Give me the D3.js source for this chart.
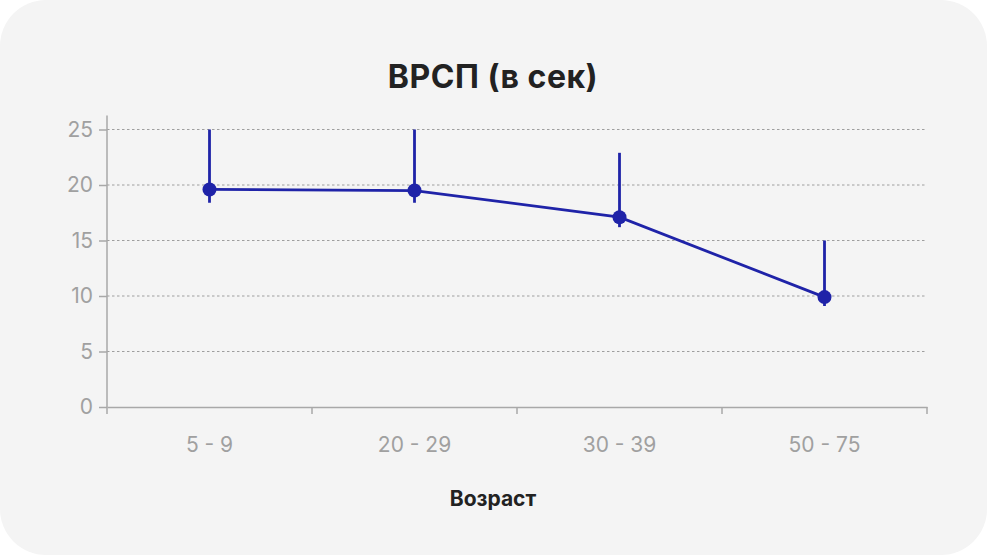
<!DOCTYPE html>
<html>
<head>
<meta charset="utf-8">
<script src="https://cdn.jsdelivr.net/npm/d3@7"></script>
<style>
  body { margin: 0; background: #ffffff; }
  text { font-family: "Inter", "Noto Sans", sans-serif; }
</style>
</head>
<body>
<div id="chart"></div>
<script>
// data
const ageGroups = ["5 - 9", "20 - 29", "30 - 39", "50 - 75"];
const meanValues = [19.6, 19.5, 17.1, 9.9];
const upperValues = [25, 25, 22.9, 15];
const lowerValues = [18.4, 18.4, 16.2, 9.1];
const yTicks = [0, 5, 10, 15, 20, 25];

const W = 987, H = 555;
const margin = {top: 129.5, right: 60, bottom: 148, left: 107};

const svg = d3.select("#chart")
  .append("svg")
    .attr("width", W)
    .attr("height", H);

// card background
svg.append("rect")
  .attr("width", W).attr("height", H)
  .attr("rx", 46).attr("ry", 46)
  .attr("fill", "#f4f4f4");

const x = d3.scaleBand()
  .domain(ageGroups)
  .range([margin.left, W - margin.right]);

const y = d3.scaleLinear()
  .domain([0, 25])
  .range([H - margin.bottom, margin.top]);

// title
svg.append("text")
  .attr("x", 493).attr("y", 88)
  .attr("text-anchor", "middle")
  .style("font-size", "32px")
  .style("font-weight", "700")
  .style("letter-spacing", "0.5px")
  .attr("fill", "#222")
  .text("ВРСП (в сек)");

// grid lines
svg.append("g")
  .selectAll("line")
  .data(yTicks.filter(d => d > 0))
  .join("line")
    .attr("x1", margin.left).attr("x2", W - margin.right)
    .attr("y1", d => y(d)).attr("y2", d => y(d))
    .attr("stroke", "#9e9e9e")
    .attr("stroke-width", 1.2)
    .attr("stroke-dasharray", "2.5,2.5");

// y axis
const yAxis = svg.append("g")
  .attr("transform", `translate(${margin.left},0)`)
  .call(d3.axisLeft(y).tickValues(yTicks).tickSize(8).tickPadding(6));
yAxis.select(".domain").attr("d", `M0,${y(0)}V${margin.top - 14}`);

// x axis, ticks on band edges
const xAxis = svg.append("g")
  .attr("transform", `translate(0,${y(0)})`)
  .call(d3.axisBottom(x).tickSize(0).tickPadding(30));
xAxis.selectAll(".edge")
  .data(ageGroups.concat(["end"]))
  .join("line")
    .attr("class", "edge")
    .attr("x1", (d, i) => i < ageGroups.length ? x(d) : x.range()[1])
    .attr("x2", (d, i) => i < ageGroups.length ? x(d) : x.range()[1])
    .attr("y1", 0).attr("y2", 7);

[yAxis, xAxis].forEach(a => {
  a.selectAll(".domain, line").attr("stroke", "#a8a8a8").attr("stroke-width", 1.5);
  a.selectAll("text")
    .attr("fill", "#a0a0a0")
    .style("font-size", "21px");
});

// x axis label
svg.append("text")
  .attr("x", 493).attr("y", 506)
  .attr("text-anchor", "middle")
  .style("font-size", "21px")
  .style("font-weight", "700")
  .attr("fill", "#222")
  .text("Возраст");

const rows = ageGroups.map((g, i) => ({
  g: g, mean: meanValues[i], hi: upperValues[i], lo: lowerValues[i]
}));
const cx = d => x(d.g) + x.bandwidth() / 2;
const blue = "#1f23a8";

// error bars
svg.append("g")
  .selectAll("line")
  .data(rows)
  .join("line")
    .attr("x1", cx).attr("x2", cx)
    .attr("y1", d => y(d.hi)).attr("y2", d => y(d.lo))
    .attr("stroke", blue)
    .attr("stroke-width", 2.8);

// mean line
svg.append("path")
  .datum(rows)
  .attr("d", d3.line().x(cx).y(d => y(d.mean)))
  .attr("fill", "none")
  .attr("stroke", blue)
  .attr("stroke-width", 2.8);

// points
svg.append("g")
  .selectAll("circle")
  .data(rows)
  .join("circle")
    .attr("cx", cx)
    .attr("cy", d => y(d.mean))
    .attr("r", 7)
    .attr("fill", blue);
</script>
</body>
</html>
